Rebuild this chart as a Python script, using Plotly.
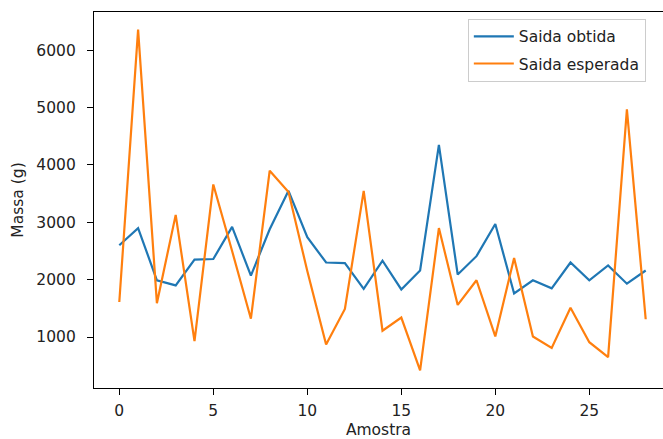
import plotly.graph_objects as go

amostra = list(range(29))
saida_obtida = [2600, 2900, 1990, 1900, 2350, 2360, 2920, 2070, 2880, 3550,
                2740, 2300, 2290, 1840, 2330, 1830, 2160, 4350, 2090, 2410,
                2970, 1760, 1990, 1850, 2300, 1990, 2250, 1930, 2160]
saida_esperada = [1610, 6360, 1590, 3130, 930, 3660, 2500, 1320, 3900, 3530,
                  2150, 870, 1490, 3550, 1110, 1340, 420, 2900, 1560, 1990,
                  1010, 2380, 1010, 810, 1510, 910, 650, 4970, 1310]
x_ticks = [0, 5, 10, 15, 20, 25]
y_ticks = [1000, 2000, 3000, 4000, 5000, 6000]

FONT = "DejaVu Sans"
FS = 15.5
TXT = "#222222"

fig = go.Figure()
fig.add_trace(go.Scatter(x=amostra, y=saida_obtida, mode="lines", name="Saida obtida",
                         legendgroup="a", line=dict(color="#1f77b4", width=2.2)))
fig.add_trace(go.Scatter(x=amostra, y=saida_esperada, mode="lines", name="Saida esperada",
                         legendgroup="b", line=dict(color="#ff7f0e", width=2.2)))

fig.update_layout(
    width=663, height=439,
    margin=dict(l=94, r=0, t=12, b=51, autoexpand=False),
    paper_bgcolor="white", plot_bgcolor="white",
    font=dict(family=FONT, size=FS, color=TXT),
    showlegend=True,
    legend=dict(x=0.657, y=0.982, xanchor="left", yanchor="top",
                bordercolor="#cccccc", borderwidth=1, bgcolor="rgba(255,255,255,0.8)",
                font=dict(family=FONT, size=FS, color=TXT), tracegroupgap=4,
                itemwidth=40, entrywidth=150, entrywidthmode="pixels"),
)
fig.update_xaxes(range=[-1.346, 28.92], tickvals=x_ticks, ticktext=[str(v) for v in x_ticks],
                 automargin=False, ticklabelstandoff=2,
                 showgrid=False, zeroline=False, showline=True, mirror=True,
                 linecolor="#000000", linewidth=1.2, ticks="outside", ticklen=6,
                 tickwidth=1.2, tickcolor="#000000",
                 title=dict(text="Amostra", font=dict(family=FONT, size=FS, color=TXT), standoff=7))
fig.update_yaxes(range=[111, 6668], tickvals=y_ticks, ticktext=[str(v) for v in y_ticks],
                 automargin=False, ticklabelstandoff=8,
                 showgrid=False, zeroline=False, showline=True, mirror=False,
                 linecolor="#000000", linewidth=1.2, ticks="outside", ticklen=6,
                 tickwidth=1.2, tickcolor="#000000",
                 title=dict(text="Massa (g)", font=dict(family=FONT, size=FS, color=TXT), standoff=8))

fig.write_html("out.html", config={"displayModeBar": False},
               post_script="document.body.style.margin='0';")
